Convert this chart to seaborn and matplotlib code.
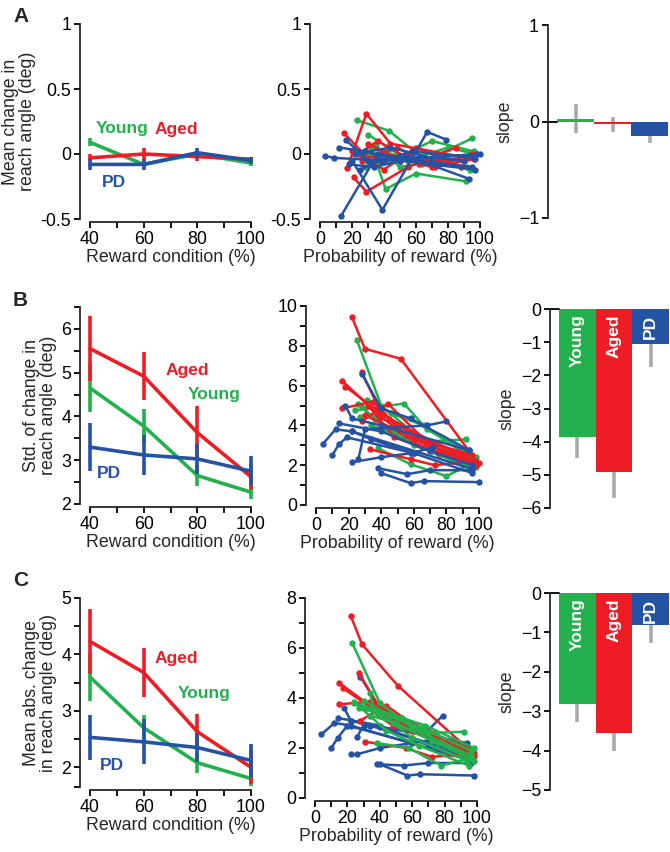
import matplotlib
matplotlib.use("Agg")
import matplotlib.pyplot as plt
import seaborn as sns
import pandas as pd

# ---------------- data ----------------
groups = ["Young", "Aged", "PD"]
colors = {"Young": "#22b14c", "Aged": "#ee1d25", "PD": "#2553a4"}
conds = [40, 60, 80, 100]

# group means / errors per reward condition
a_mean = {"Young": [0.09, -0.08, 0.0, -0.07], "Aged": [-0.03, 0.0, -0.02, -0.04], "PD": [-0.08, -0.08, 0.01, -0.05]}
a_err = {"Young": [0.03, 0.02, 0.02, 0.02], "Aged": [0.03, 0.05, 0.03, 0.02], "PD": [0.04, 0.04, 0.04, 0.03]}
b_mean = {"Young": [4.65, 3.78, 2.65, 2.27], "Aged": [5.55, 4.92, 3.63, 2.62], "PD": [3.3, 3.12, 3.03, 2.75]}
b_err = {"Young": [0.55, 0.38, 0.25, 0.15], "Aged": [0.75, 0.55, 0.6, 0.3], "PD": [0.55, 0.45, 0.35, 0.35]}
c_mean = {"Young": [3.6, 2.7, 2.08, 1.8], "Aged": [4.23, 3.68, 2.63, 2.0], "PD": [2.53, 2.45, 2.35, 2.12]}
c_err = {"Young": [0.42, 0.22, 0.18, 0.13], "Aged": [0.58, 0.44, 0.32, 0.3], "PD": [0.4, 0.4, 0.25, 0.3]}

# individual subjects: probability of reward (x) and value (y)
a_px = {
    "Young": [[23, 43, 66, 95], [32, 41, 60, 91], [28, 45, 70, 96], [35, 50, 75, 94], [26, 40, 64, 92], [30, 55, 80, 97]],
    "Aged": [[15, 29, 50, 90], [17, 29, 44, 97], [21, 29, 55, 85], [24, 36, 62, 92], [30, 46, 70, 95], [20, 40, 60, 88], [26, 48, 72, 96]],
    "PD": [[3, 9, 40, 100], [13, 36, 60, 95], [20, 39, 67, 79], [16, 30, 55, 93], [12, 28, 50, 97], [18, 34, 62, 90], [22, 44, 70, 98], [25, 38, 58, 96]],
}
a_py = {
    "Young": [[0.26, 0.18, -0.05, 0.12], [0.05, -0.27, -0.15, -0.21], [-0.1, -0.05, 0.1, 0.02], [0.06, -0.1, -0.05, -0.12], [-0.02, 0.02, -0.08, -0.1], [0.15, -0.05, 0.05, 0.0]],
    "Aged": [[0.16, -0.02, -0.05, -0.05], [-0.11, 0.31, 0.08, -0.04], [-0.18, -0.29, -0.1, 0.05], [0.0, 0.1, -0.08, -0.02], [0.08, -0.02, -0.1, 0.0], [0.02, -0.12, 0.05, -0.1], [-0.05, 0.05, -0.1, -0.04]],
    "PD": [[-0.015, -0.03, -0.05, 0.0], [-0.48, 0.0, -0.05, -0.1], [-0.05, -0.43, 0.17, 0.11], [0.11, -0.05, -0.02, -0.19], [0.05, 0.02, -0.05, -0.12], [-0.08, -0.1, -0.02, -0.05], [0.0, 0.05, -0.03, 0.0], [-0.12, -0.05, 0.02, -0.03]],
}
b_px = {
    "Young": [[25, 40, 60, 96], [24, 54, 68, 98], [38, 58, 80, 96], [27, 42, 70, 92], [31, 46, 66, 96], [26, 36, 60, 94], [34, 50, 72, 98], [28, 48, 76, 90]],
    "Aged": [[22, 30, 52, 94], [28, 40, 62, 98], [16, 40, 60, 90], [18, 45, 65, 96], [16, 35, 55, 92], [33, 58, 73, 97], [28, 44, 70, 98], [32, 48, 75, 96], [36, 52, 74, 88], [30, 46, 66, 100]],
    "PD": [[4, 12, 22, 96], [10, 14, 19, 60], [14, 40, 70, 96], [18, 22, 40, 94], [22, 40, 58, 72], [26, 30, 68, 80], [28, 40, 58, 94], [38, 56, 70, 96], [40, 58, 66, 100], [22, 34, 60, 96]],
}
b_py = {
    "Young": [[8.3, 5.0, 3.6, 2.2], [4.75, 5.1, 3.8, 2.4], [2.85, 2.05, 1.45, 2.1], [4.4, 4.5, 3.2, 3.3], [5.3, 4.6, 4.0, 2.3], [5.1, 4.3, 3.0, 2.0], [4.0, 3.5, 2.7, 1.9], [4.9, 3.6, 2.5, 2.0]],
    "Aged": [[9.45, 7.85, 7.35, 2.7], [6.7, 4.6, 3.5, 2.2], [6.25, 4.4, 3.3, 2.4], [5.95, 4.3, 3.2, 2.5], [4.85, 5.2, 3.5, 2.6], [2.8, 2.3, 2.0, 2.2], [4.2, 5.1, 3.0, 2.0], [5.0, 3.4, 2.6, 2.1], [4.8, 4.0, 3.1, 2.6], [4.5, 3.9, 2.9, 2.1]],
    "PD": [[3.05, 3.8, 3.7, 1.8], [2.5, 3.05, 3.4, 2.6], [4.1, 3.7, 2.7, 2.0], [5.0, 4.35, 4.0, 2.75], [2.15, 2.4, 2.6, 2.9], [2.3, 3.8, 4.0, 4.2], [6.6, 4.85, 4.35, 2.75], [1.85, 1.55, 1.75, 1.75], [1.6, 1.1, 1.2, 1.15], [3.7, 3.3, 2.6, 1.6]],
}
c_px = {
    "Young": [[23, 40, 60, 96], [24, 54, 68, 98], [38, 58, 78, 96], [27, 42, 70, 92], [30, 46, 66, 96], [34, 36, 60, 94], [34, 50, 72, 98], [28, 48, 76, 90], [24, 44, 64, 95]],
    "Aged": [[22, 29, 51, 94], [27, 40, 62, 98], [15, 38, 60, 90], [17, 42, 66, 96], [15, 34, 56, 92], [31, 56, 72, 97], [28, 44, 70, 98], [32, 48, 75, 96], [36, 52, 74, 88]],
    "PD": [[4, 12, 22, 96], [10, 14, 20, 60], [14, 40, 70, 96], [18, 22, 40, 94], [22, 26, 40, 70], [26, 30, 68, 79], [28, 40, 58, 94], [38, 55, 70, 96], [40, 57, 65, 98], [22, 34, 60, 96]],
}
c_py = {
    "Young": [[6.2, 3.8, 2.8, 1.7], [3.8, 3.2, 2.9, 2.0], [2.2, 2.0, 1.3, 1.6], [3.6, 3.4, 2.6, 2.65], [3.9, 3.3, 2.8, 1.9], [4.2, 3.6, 2.4, 1.5], [3.3, 3.0, 2.3, 1.5], [3.7, 3.0, 2.2, 1.8], [3.85, 2.7, 2.1, 1.3]],
    "Aged": [[7.3, 6.15, 4.5, 2.0], [5.0, 3.6, 2.9, 1.8], [4.6, 3.5, 2.7, 1.9], [4.4, 3.3, 2.6, 1.8], [3.75, 3.85, 2.9, 2.1], [2.25, 2.0, 1.65, 1.75], [3.1, 3.7, 2.5, 1.7], [3.6, 2.9, 2.3, 1.9], [3.9, 3.2, 2.6, 2.0]],
    "PD": [[2.55, 3.0, 2.9, 1.5], [2.0, 2.4, 2.9, 2.2], [3.2, 2.9, 2.1, 1.6], [3.6, 3.1, 2.85, 2.2], [1.75, 1.75, 2.0, 2.3], [2.45, 2.9, 2.6, 3.3], [4.85, 3.6, 3.0, 2.0], [1.35, 1.3, 1.4, 1.4], [1.35, 0.9, 0.95, 0.9], [3.1, 2.9, 2.4, 1.7]],
}

# slopes (bar charts)
a_slope = [0.03, -0.03, -0.15]
a_slope_err = [0.15, 0.08, 0.07]
b_slope = [-3.85, -4.9, -1.05]
b_slope_err = [0.65, 0.8, 0.7]
c_slope = [-2.82, -3.55, -0.82]
c_slope_err = [0.45, 0.45, 0.45]

# ---------------- style ----------------
sns.set_theme(style="ticks")
plt.rcParams["font.family"] = ["Liberation Sans", "DejaVu Sans"]
plt.rcParams["axes.linewidth"] = 1.3
FS = 12.8

W, H = 670, 852
fig = plt.figure(figsize=(W / 100, H / 100), dpi=100)


def px_axes(x0, x1, y0, y1):
    return fig.add_axes([x0 / W, 1 - y1 / H, (x1 - x0) / W, (y1 - y0) / H])


def style_axes(ax, left_off=7, bottom_off=2):
    sns.despine(ax=ax)
    ax.spines["left"].set_position(("outward", left_off))
    ax.spines["bottom"].set_position(("outward", bottom_off))
    ax.tick_params(which="both", direction="out", length=4.5, width=1.3,
                   labelsize=FS, pad=2, colors="black")
    ax.set_facecolor("none")


def left_panel(ax, mean, err, order, labels, ylim, yticks, yminor, ylabel):
    for g in order:
        sns.lineplot(x=conds, y=mean[g], color=colors[g], lw=2.6, ax=ax, clip_on=False)
        lo = [m - e for m, e in zip(mean[g], err[g])]
        hi = [m + e for m, e in zip(mean[g], err[g])]
        ax.vlines(conds, lo, hi, color=colors[g], lw=2.6, clip_on=False)
    for g, (tx, ty) in labels.items():
        ax.text(tx, ty, g, color=colors[g], fontsize=12.5, fontweight="bold",
                ha="left", va="center")
    ax.set_xlim(40, 100)
    ax.set_ylim(*ylim)
    ax.set_xticks([40, 60, 80, 100])
    ax.set_xticks([50, 70, 90], minor=True)
    ax.set_yticks(yticks)
    ax.set_yticks(yminor, minor=True)
    ax.set_xlabel("Reward condition (%)", fontsize=FS, labelpad=1)
    ax.set_ylabel(ylabel, fontsize=FS, labelpad=3, linespacing=1.0)
    style_axes(ax, 7, 2)


def mid_panel(ax, px, py, order, ylim, yticks, yminor):
    for g in order:
        rows = []
        for i, (xs, ys) in enumerate(zip(px[g], py[g])):
            for x, y in zip(xs, ys):
                rows.append({"subj": i, "prob": x, "val": y})
        df = pd.DataFrame(rows)
        sns.lineplot(data=df, x="prob", y="val", units="subj", estimator=None,
                     color=colors[g], lw=1.8, marker="o", markersize=4.6,
                     markeredgewidth=0, sort=False, ax=ax, clip_on=False)
    ax.set_xlim(0, 100)
    ax.set_ylim(*ylim)
    ax.set_xticks([0, 20, 40, 60, 80, 100])
    ax.set_xticks([10, 30, 50, 70, 90], minor=True)
    ax.set_yticks(yticks)
    ax.set_yticks(yminor, minor=True)
    ax.set_xlabel("Probability of reward (%)", fontsize=FS, labelpad=1)
    ax.set_ylabel("")
    style_axes(ax, 7, 2)


def bar_panel(ax, slope, err, ylim, yticks, names=True):
    ax.errorbar([0, 1, 2], slope, yerr=err, fmt="none", ecolor="#aaaaaa",
                elinewidth=2.6, capsize=0, zorder=0.5)
    sns.barplot(x=groups, y=slope, hue=groups, palette=colors, width=1,
                saturation=1, legend=False, linewidth=0, errorbar=None, ax=ax, zorder=1)
    ax.set_xlim(-0.5, 2.5)
    ax.set_ylim(*ylim)
    ax.set_yticks(yticks)
    ax.set_ylabel("slope", fontsize=FS, labelpad=4)
    ax.set_xlabel("")
    ax.set_xticks([])
    style_axes(ax, 6.5, 0)
    ax.spines["bottom"].set_visible(False)
    ax.plot([-0.085, 0], [0, 0], color="black", lw=1.3,
            transform=ax.get_yaxis_transform(), clip_on=False)
    if names:
        for i, g in enumerate(groups):
            ax.annotate(g, (i, 0), xytext=(0, -4), textcoords="offset points",
                        rotation=90, ha="center", va="top", color="white",
                        fontsize=12.5, fontweight="bold")


# ---------------- row A ----------------
ax = px_axes(90, 251, 24, 219)
left_panel(ax, a_mean, a_err, ["Young", "Aged", "PD"],
           {"Young": (42, 0.2), "Aged": (64, 0.19), "PD": (44.5, -0.22)},
           (-0.5, 1), [-0.5, 0, 0.5, 1], [], "Mean change in\nreach angle (deg)")
ax.set_yticklabels(["-0.5", "0", "0.5", "1"])

ax = px_axes(320, 480, 24, 219)
mid_panel(ax, a_px, a_py, ["Young", "Aged", "PD"], (-0.5, 1), [-0.5, 0, 0.5, 1], [])
ax.set_yticklabels(["-0.5", "0", "0.5", "1"])

ax = px_axes(557, 668, 25, 218)
bar_panel(ax, a_slope, a_slope_err, (-1, 1), [-1, 0, 1], names=False)

# ---------------- row B ----------------
ax = px_axes(90, 251, 307, 504)
left_panel(ax, b_mean, b_err, ["Young", "Aged", "PD"],
           {"Young": (76.5, 4.5), "Aged": (68, 5.06), "PD": (42.5, 2.7)},
           (2, 6.5), [2, 3, 4, 5, 6], [2.5, 3.5, 4.5, 5.5, 6.5],
           "Std. of change in\nreach angle (deg)")

ax = px_axes(316, 479, 306, 505)
mid_panel(ax, b_px, b_py, ["Young", "Aged", "PD"], (0, 10), [0, 2, 4, 6, 8, 10],
          [1, 3, 5, 7, 9])

ax = px_axes(559, 669, 309, 508)
bar_panel(ax, b_slope, b_slope_err, (-6, 0), [-6, -5, -4, -3, -2, -1, 0])

# ---------------- row C ----------------
ax = px_axes(90, 251, 598, 787)
left_panel(ax, c_mean, c_err, ["Young", "Aged", "PD"],
           {"Young": (72.8, 3.3), "Aged": (64, 3.92), "PD": (43.7, 2.03)},
           (1.65, 5), [2, 3, 4, 5], [1.65, 2.5, 3.5, 4.5],
           "Mean abs. change\nin reach angle (deg)")

ax = px_axes(315, 477, 598, 798)
mid_panel(ax, c_px, c_py, ["PD", "Aged", "Young"], (0, 8), [0, 2, 4, 6, 8], [1, 3, 5, 7])

ax = px_axes(559, 669, 593, 790)
bar_panel(ax, c_slope, c_slope_err, (-5, 0), [-5, -4, -3, -2, -1, 0])

# panel letters
for letter, ypx in [("A", 16), ("B", 300), ("C", 580)]:
    fig.text(13 / W, 1 - ypx / H, letter, fontsize=15, fontweight="bold",
             ha="left", va="center")

fig.savefig("out.png", dpi=100)
